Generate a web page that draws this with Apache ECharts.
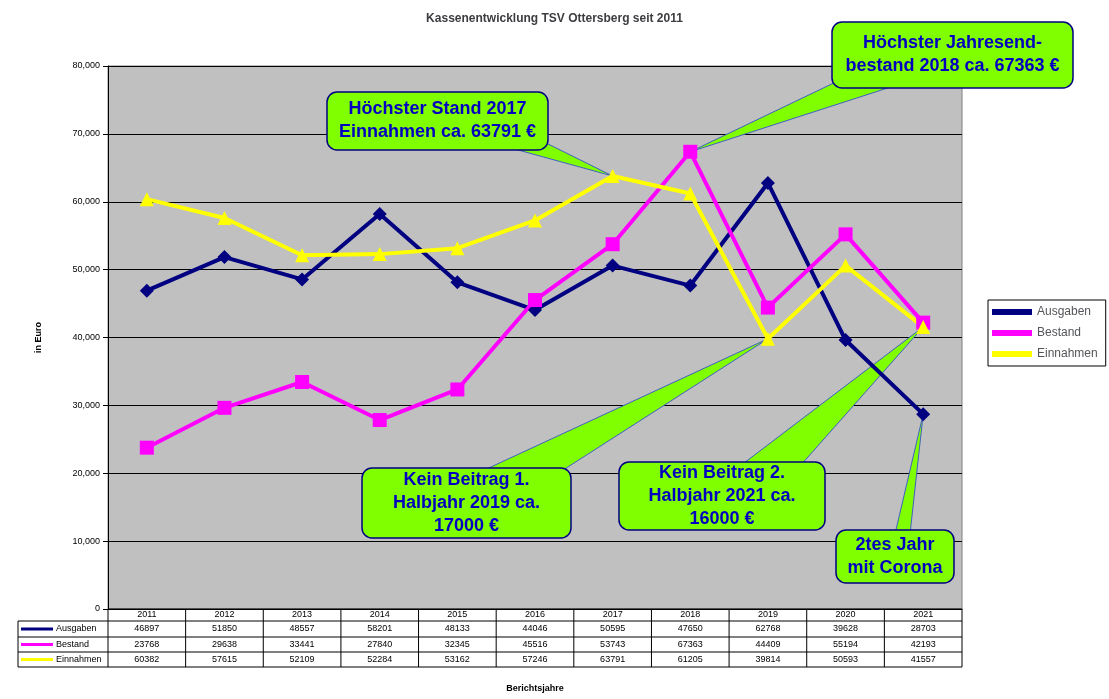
<!DOCTYPE html>
<html><head><meta charset="utf-8">
<script src="https://cdn.jsdelivr.net/npm/echarts@6/dist/echarts.min.js"></script>
<style>body{margin:0;background:#fff}#main{width:1109px;height:699px}</style>
</head><body><div id="main"></div>
<script>
var jahre = ['2011','2012','2013','2014','2015','2016','2017','2018','2019','2020','2021'];
var ausgaben = [46897,51850,48557,58201,48133,44046,50595,47650,62768,39628,28703];
var bestand = [23768,29638,33441,27840,32345,45516,53743,67363,44409,55194,42193];
var einnahmen = [60382,57615,52109,52284,53162,57246,63791,61205,39814,50593,41557];

var farben = ['#000080', '#ff00ff', '#ffff00'];
var namen = ['Ausgaben', 'Bestand', 'Einnahmen'];
var reihen = [ausgaben, bestand, einnahmen];
var symbole = ['diamond', 'rect', 'triangle'];

var chart = echarts.init(document.getElementById('main'));
var L = 108, R = 962, T = 66, B = 609;

chart.setOption({
	animation: false,
	title: { text: 'Kassenentwicklung TSV Ottersberg seit 2011', left: 'center', top: 8,
		textStyle: { fontSize: 12, fontWeight: 'bold', fontFamily: 'Liberation Sans' } },
	grid: { left: L, right: 1109 - R, top: T, bottom: 699 - B, backgroundColor: '#c0c0c0', show: true, borderColor: '#808080' },
	legend: {
		orient: 'vertical', left: 988, top: 300, itemGap: 9, itemWidth: 40, itemHeight: 6,
		backgroundColor: '#fff', borderColor: '#000', borderWidth: 1, padding: [6, 8, 6, 4],
		textStyle: { fontSize: 12, fontFamily: 'Liberation Sans' }, data: namen, icon: 'rect'
	},
	xAxis: { type: 'category', data: jahre, boundaryGap: true, axisLabel: { show: false },
		axisTick: { show: false }, axisLine: { lineStyle: { color: '#000' } } },
	yAxis: { type: 'value', min: 0, max: 80000, interval: 10000,
		name: 'in Euro', nameLocation: 'middle', nameGap: 65,
		nameTextStyle: { fontSize: 9, fontWeight: 'bold', fontFamily: 'Liberation Sans' },
		axisLabel: { fontSize: 9, fontFamily: 'Liberation Sans', color: '#000' },
		axisLine: { show: true, lineStyle: { color: '#000' } }, axisTick: { show: true },
		splitLine: { lineStyle: { color: '#000' } } },
	series: reihen.map(function (d, i) {
		return { name: namen[i], type: 'line', data: d, symbol: symbole[i], symbolSize: 14,
			lineStyle: { width: 4, color: farben[i] }, itemStyle: { color: farben[i] } };
	})
});

// Tabelle und Callouts
var g = [];
var colW = (R - L) / jahre.length;
var rowsY = [609, 621, 637, 652, 667];
function line(x1, y1, x2, y2) { g.push({ type: 'line', shape: { x1: x1, y1: y1, x2: x2, y2: y2 }, style: { stroke: '#000', lineWidth: 1 } }); }
line(L, 609, R, 609);
for (var r = 1; r < rowsY.length; r++) line(18, rowsY[r], R, rowsY[r]);
line(18, 621, 18, 667);
for (var c = 0; c <= jahre.length; c++) line(L + c * colW, 609, L + c * colW, 667);
function txt(x, y, s, align) { g.push({ type: 'text', x: x, y: y, style: { text: s, fontSize: 9, fontFamily: 'Liberation Sans', fill: '#000', align: align || 'center', verticalAlign: 'middle' } }); }
jahre.forEach(function (j, i) { txt(L + (i + 0.5) * colW, 615, j); });
reihen.forEach(function (d, k) {
	var y = (rowsY[k + 1] + rowsY[k + 2]) / 2;
	g.push({ type: 'line', shape: { x1: 21, y1: y, x2: 53, y2: y }, style: { stroke: farben[k], lineWidth: 3 } });
	txt(56, y, namen[k], 'left');
	d.forEach(function (v, i) { txt(L + (i + 0.5) * colW, y, String(v)); });
});
g.push({ type: 'text', x: 535, y: 689, style: { text: 'Berichtsjahre', fontSize: 9, fontWeight: 'bold', fontFamily: 'Liberation Sans', align: 'center', verticalAlign: 'middle' } });

function pt(i, v) { return chart.convertToPixel({ seriesIndex: 0 }, [i, v]); }
function callout(box, text, p1, p2, tip) {
	g.push({ type: 'polygon', shape: { points: [p1, p2, tip] }, style: { fill: '#80ff00', stroke: '#4060c0', lineWidth: 1 } });
	g.push({ type: 'rect', shape: { x: box[0], y: box[1], width: box[2], height: box[3], r: 10 },
		style: { fill: '#80ff00', stroke: '#000080', lineWidth: 1.5 } });
	g.push({ type: 'text', x: box[0] + box[2] / 2, y: box[1] + box[3] / 2,
		style: { text: text, fontSize: 18, fontWeight: 'bold', fontFamily: 'Liberation Sans', fill: '#0000c0', align: 'center', verticalAlign: 'middle', lineHeight: 23 } });
}
callout([327, 92, 221, 58], 'Höchster Stand 2017\nEinnahmen ca. 63791 €', [500, 145], [540, 140], pt(6, 63791));
callout([832, 22, 241, 66], 'Höchster Jahresend-\nbestand 2018 ca. 67363 €', [840, 80], [900, 84], pt(7, 67363));
callout([362, 468, 209, 70], 'Kein Beitrag 1.\nHalbjahr 2019 ca.\n17000 €', [480, 472], [560, 472], pt(8, 39814));
callout([619, 462, 206, 68], 'Kein Beitrag 2.\nHalbjahr 2021 ca.\n16000 €', [740, 466], [800, 466], pt(10, 41557));
callout([836, 530, 118, 53], '2tes Jahr\nmit Corona', [895, 534], [910, 534], pt(10, 28703));

chart.setOption({ graphic: g });
</script>
</body></html>
